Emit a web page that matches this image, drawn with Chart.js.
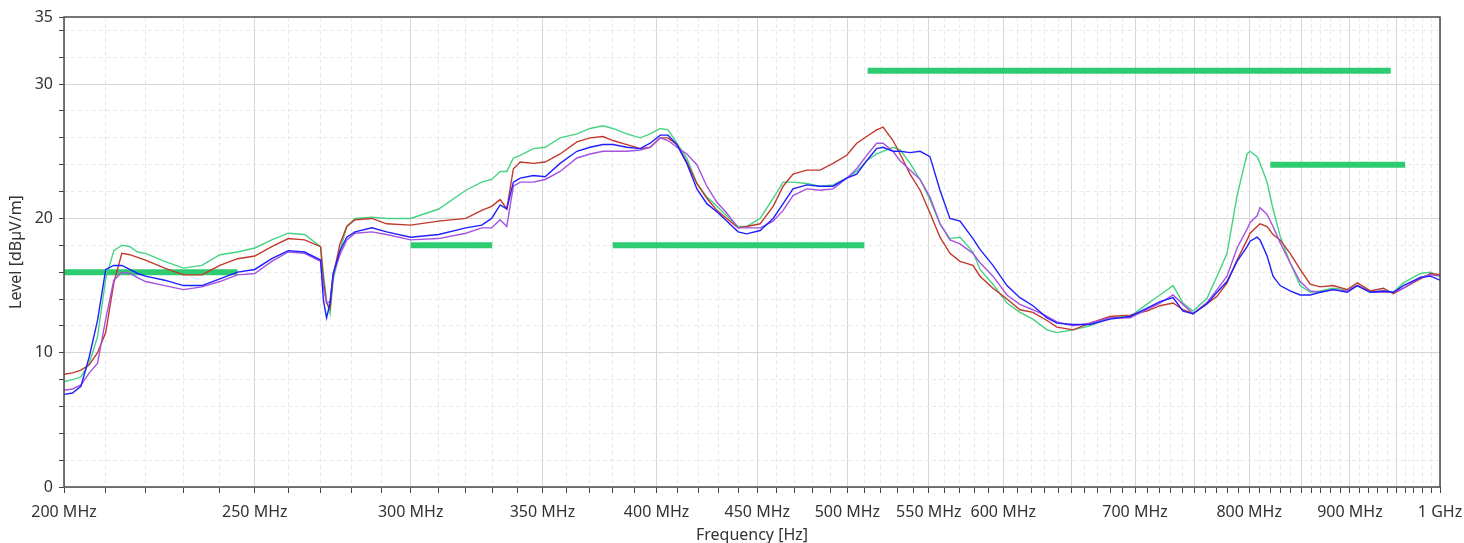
<!DOCTYPE html>
<html>
<head>
<meta charset="utf-8">
<title>Level vs Frequency</title>
<script src="https://cdn.jsdelivr.net/npm/chart.js@4.4.1/dist/chart.umd.min.js"></script>
<style>
  html, body { margin: 0; padding: 0; background: #fff; }
  canvas { display: block; }
</style>
</head>
<body>
<canvas id="chart" width="1464" height="543"></canvas>
<script>
// frequency points in MHz, shared by all four traces
const freqs = [200, 202, 204, 206, 208, 210, 212, 214, 216, 218, 220, 225, 230, 235, 240, 245, 250, 255, 260, 265,
  270, 270.9, 271.9, 273, 274, 276.2, 278.4, 281.1, 286.7, 291.7, 300, 310, 320, 326, 329.8, 333.1, 335.7, 338.3, 341,
  346.3, 351.1, 357.3, 364.4, 370, 375.7, 380.1, 386.3, 392.4, 397, 401.7, 405.4, 409.6, 414.4, 419.3, 424.2, 429.2,
  434.2, 440, 444.4, 451.5, 458.4, 463.8, 469.2, 476.8, 484.3, 491.7, 499.6, 505.5, 511.4, 517.4, 521.3, 527.4, 531.8,
  538, 544.4, 550.7, 557.2, 563.7, 570.4, 579.1, 583.9, 592.8, 602.6, 611.8, 621.2, 631.5, 638.9, 651, 664, 679.8,
  695.9, 709.6, 720.7, 731.8, 740.4, 749.1, 761.5, 770.4, 779.5, 788.7, 798, 800.8, 807.4, 810.2, 816.9, 822.6, 829.4,
  839.2, 849.1, 859.1, 869.2, 882.5, 897.2, 907.8, 921.8, 935.9, 946.9, 958.1, 977.3, 988.8, 1000];

// levels in dBµV/m
const green = [7.85, 8.0, 8.2, 9.2, 11.2, 15.5, 17.6, 18.0, 17.9, 17.5, 17.4, 16.8, 16.3, 16.5, 17.3, 17.5, 17.8, 18.4, 18.9, 18.8,
  17.9, 15.9, 13.9, 12.9, 15.4, 17.6, 19.4, 20.0, 20.1, 20.0, 20.0, 20.7, 22.1, 22.7, 22.9, 23.5, 23.5, 24.5, 24.7,
  25.2, 25.3, 26.0, 26.3, 26.7, 26.9, 26.7, 26.3, 26.0, 26.3, 26.7, 26.6, 25.6, 24.5, 22.6, 21.6, 20.9,
  20.2, 19.4, 19.4, 20.0, 21.5, 22.7, 22.7, 22.6, 22.4, 22.5, 23.0, 23.5, 24.3, 24.8, 25.0, 25.3, 25.1,
  24.1, 22.9, 21.4, 19.6, 18.5, 18.6, 17.5, 16.2, 15.1, 13.7, 13.0, 12.5, 11.7, 11.5, 11.7, 12.0, 12.6,
  12.7, 13.6, 14.3, 15.0, 13.7, 13.1, 14.05, 15.7, 17.4, 21.7, 24.8, 25.0, 24.6, 24.1, 22.7, 20.7, 18.7,
  16.7, 15.0, 14.5, 14.6, 14.8, 14.7, 15.0, 14.5, 14.6, 14.5, 15.2, 15.9, 16.0, 15.7];

const red = [8.4, 8.5, 8.7, 9.1, 10.0, 11.5, 15.2, 17.4, 17.3, 17.1, 16.9, 16.3, 15.8, 15.8, 16.5, 17.0, 17.2, 17.9, 18.5, 18.4,
  17.9, 15.4, 13.7, 13.3, 15.7, 18.1, 19.4, 19.9, 20.0, 19.6, 19.5, 19.8, 20.0, 20.6, 20.9, 21.4, 20.7, 23.7, 24.2,
  24.1, 24.2, 24.8, 25.7, 26.0, 26.1, 25.8, 25.5, 25.2, 25.3, 26.0, 26.0, 25.5, 24.2, 22.6, 21.5, 20.6,
  20.0, 19.3, 19.4, 19.6, 20.9, 22.4, 23.3, 23.6, 23.6, 24.1, 24.7, 25.6, 26.1, 26.6, 26.8, 25.8, 24.8,
  23.3, 22.1, 20.4, 18.6, 17.4, 16.8, 16.5, 15.7, 14.8, 14.0, 13.2, 13.0, 12.4, 11.9, 11.7, 12.2, 12.7,
  12.8, 13.1, 13.5, 13.7, 13.2, 12.9, 13.65, 14.2, 15.2, 16.9, 18.4, 18.9, 19.4, 19.6, 19.4, 18.8, 18.4,
  17.4, 16.2, 15.1, 14.9, 15.0, 14.7, 15.2, 14.6, 14.8, 14.4, 14.8, 15.5, 15.9, 15.8];

const blue = [6.9, 7.0, 7.5, 9.7, 12.4, 16.2, 16.5, 16.5, 16.2, 15.9, 15.7, 15.4, 15.0, 15.0, 15.5, 16.0, 16.2, 17.0, 17.6, 17.5,
  16.9, 13.9, 12.6, 13.7, 15.9, 17.6, 18.6, 19.0, 19.3, 19.0, 18.6, 18.8, 19.3, 19.5, 20.0, 21.0, 20.7, 22.7, 23.0,
  23.2, 23.1, 24.1, 25.0, 25.3, 25.5, 25.5, 25.3, 25.2, 25.6, 26.2, 26.2, 25.5, 24.1, 22.2, 21.1, 20.5,
  19.8, 19.0, 18.85, 19.1, 20.0, 21.1, 22.2, 22.5, 22.4, 22.4, 23.0, 23.3, 24.3, 25.2, 25.3, 25.0, 25.0,
  24.9, 25.0, 24.6, 22.1, 20.0, 19.8, 18.5, 17.7, 16.5, 15.0, 14.1, 13.5, 12.6, 12.2, 12.1, 12.1, 12.5,
  12.7, 13.3, 13.8, 14.1, 13.1, 12.9, 13.65, 14.5, 15.3, 16.8, 17.9, 18.3, 18.6, 18.4, 17.2, 15.7, 15.0,
  14.6, 14.3, 14.3, 14.5, 14.7, 14.5, 15.0, 14.5, 14.6, 14.5, 15.0, 15.6, 15.7, 15.4];

const purple = [7.2, 7.3, 7.6, 8.5, 9.2, 12.5, 15.4, 16.0, 15.9, 15.6, 15.3, 15.0, 14.7, 14.9, 15.3, 15.8, 15.9, 16.8, 17.5, 17.4,
  16.8, 14.9, 13.7, 13.8, 15.8, 17.3, 18.4, 18.9, 19.0, 18.8, 18.4, 18.5, 18.9, 19.3, 19.3, 19.9, 19.4, 22.4, 22.7,
  22.7, 22.9, 23.5, 24.5, 24.8, 25.0, 25.0, 25.0, 25.1, 25.3, 26.0, 25.8, 25.3, 24.8, 24.0, 22.4, 21.2,
  20.4, 19.3, 19.3, 19.3, 19.8, 20.6, 21.7, 22.2, 22.1, 22.2, 23.0, 23.7, 24.7, 25.6, 25.6, 25.0, 24.3,
  23.6, 22.9, 21.6, 19.6, 18.4, 18.1, 17.4, 16.7, 15.7, 14.3, 13.6, 13.2, 12.7, 12.3, 12.0, 12.2, 12.6,
  12.6, 13.2, 13.7, 14.3, 13.6, 12.9, 13.75, 14.7, 15.7, 17.8, 19.2, 19.7, 20.2, 20.8, 20.3, 19.4, 18.2,
  16.7, 15.3, 14.6, 14.5, 14.7, 14.6, 15.0, 14.5, 14.5, 14.5, 14.8, 15.6, 15.8, 15.7];

// limit segments: start / end frequency (MHz) and level (dBµV/m)
const limitStart = [200, 300, 380, 512, 820];
const limitEnd = [245, 330, 510, 944, 960];
const limitLevel = [16, 18, 18, 31, 24];

// axis labels
const xLabelValues = [200, 250, 300, 350, 400, 450, 500, 550, 600, 700, 800, 900, 1000];
const yLabelValues = [0, 10, 20, 30, 35];

const xTickValues = [];
for (let f = 200; f <= 1000; f += 10) xTickValues.push(f);
const yTickValues = [];
for (let v = 0; v <= 34; v += 2) yTickValues.push(v);
yTickValues.push(35);

const FONT = '"Noto Sans", "Open Sans", sans-serif';
const TEXT = '#333333';

function trace(label, values, color) {
  return {
    label: label,
    data: freqs.map((f, i) => ({ x: f, y: values[i] })),
    borderColor: color,
    borderWidth: 1.4,
    pointRadius: 0,
    fill: false,
    tension: 0
  };
}

const datasets = [
  trace('Trace 4', blue, '#1f1fff'),
  trace('Trace 3', purple, '#a552e0'),
  trace('Trace 2', red, '#c0392b'),
  trace('Trace 1', green, '#45d283')
];
limitLevel.forEach((lvl, i) => {
  datasets.push({
    label: 'Limit ' + (i + 1),
    data: [{ x: limitStart[i], y: lvl }, { x: limitEnd[i], y: lvl }],
    borderColor: '#2ecc71',
    borderWidth: 6,
    borderCapStyle: 'butt',
    pointRadius: 0,
    fill: false
  });
});

const frame = {
  id: 'frame',
  afterDraw(chart) {
    const { ctx, chartArea: a } = chart;
    ctx.save();
    ctx.strokeStyle = '#4a4a4a';
    ctx.lineWidth = 1.5;
    ctx.strokeRect(a.left, a.top, a.right - a.left, a.bottom - a.top);
    ctx.restore();
  }
};

new Chart(document.getElementById('chart'), {
  type: 'line',
  data: { datasets: datasets },
  plugins: [frame],
  options: {
    responsive: false,
    animation: false,
    layout: { padding: { top: 17, right: 24, left: 0, bottom: 0 } },
    plugins: { legend: { display: false }, tooltip: { enabled: false } },
    scales: {
      x: {
        type: 'logarithmic',
        min: 200,
        max: 1000,
        afterBuildTicks: (scale) => { scale.ticks = xTickValues.map(v => ({ value: v })); },
        afterFit: (scale) => {
          scale.height = 56;
          scale.paddingLeft = 0;
          scale.paddingRight = 0;
        },
        ticks: {
          autoSkip: false,
          maxRotation: 0,
          padding: 10,
          color: TEXT,
          font: { family: FONT, size: 16 },
          callback: (v) => xLabelValues.includes(v) ? (v === 1000 ? '1 GHz' : v + ' MHz') : ''
        },
        grid: {
          color: (c) => (c.tick && c.tick.value % 50 === 0) ? '#d6d6d6' : '#e9e9e9',
          lineWidth: 1,
          tickLength: 6,
          tickColor: '#444'
        },
        border: {
          display: false,
          dash: (c) => (c.tick && c.tick.value % 50 !== 0) ? [4, 3] : []
        },
        title: {
          display: true,
          text: 'Frequency [Hz]',
          color: TEXT,
          font: { family: FONT, size: 16 },
          padding: { top: 0, bottom: -2 }
        }
      },
      y: {
        type: 'linear',
        min: 0,
        max: 35,
        afterBuildTicks: (scale) => { scale.ticks = yTickValues.map(v => ({ value: v })); },
        afterFit: (scale) => {
          scale.width = 64;
          scale.paddingTop = 0;
          scale.paddingBottom = 0;
        },
        ticks: {
          autoSkip: false,
          padding: 6,
          color: TEXT,
          font: { family: FONT, size: 16 },
          callback: (v) => yLabelValues.includes(v) ? String(v) : ''
        },
        grid: {
          color: (c) => (c.tick && c.tick.value % 10 === 0) ? '#d6d6d6' : '#e9e9e9',
          lineWidth: 1,
          tickLength: 5,
          tickColor: '#444'
        },
        border: {
          display: false,
          dash: (c) => (c.tick && c.tick.value % 10 !== 0) ? [4, 3] : []
        },
        title: {
          display: true,
          text: 'Level [dBµV/m]',
          color: TEXT,
          font: { family: FONT, size: 16 },
          padding: { top: 7, bottom: 0 }
        }
      }
    }
  }
});
</script>
</body>
</html>
